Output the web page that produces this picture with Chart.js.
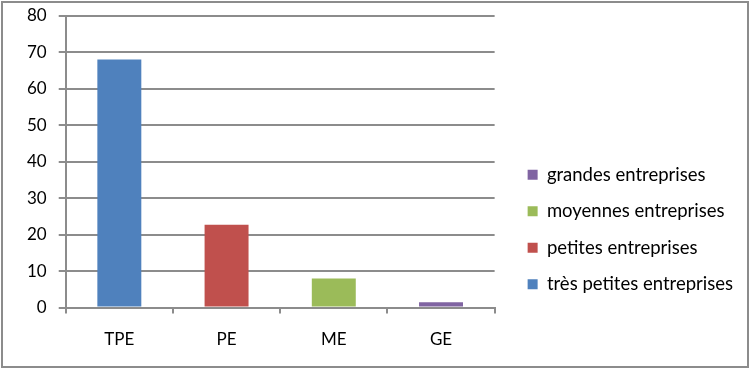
<!DOCTYPE html>
<html>
<head>
<meta charset="utf-8">
<script src="https://cdn.jsdelivr.net/npm/chart.js@4.4.1/dist/chart.umd.min.js"></script>
<style>
  html, body { margin: 0; padding: 0; background: #fff; }
  #frame { position: absolute; left: 1px; top: 1px; width: 744px; height: 363px; border: 2px solid #8c8c8c; }
  #frame canvas { display: block; }
</style>
</head>
<body>
<div id="frame"><canvas id="sizeChart" width="744" height="363"></canvas></div>
<script>
const categories = ['TPE', 'PE', 'ME', 'GE'];
const seriesNames = ['très petites entreprises', 'petites entreprises', 'moyennes entreprises', 'grandes entreprises'];
const seriesValues = [68, 22.7, 8, 1.5];
const seriesColors = ['#4F81BD', '#C0504D', '#9BBB59', '#8064A2'];
const yTicks = [0, 10, 20, 30, 40, 50, 60, 70, 80];

const fontFamily = "Lato, sans-serif";

// each series only has a value in its own category
const datasets = seriesNames.map((name, i) => ({
  label: name,
  data: categories.map((c, j) => (j === i ? seriesValues[i] : null)),
  backgroundColor: seriesColors[i],
  borderWidth: 0,
  barPercentage: 0.82,
  categoryPercentage: 0.5
}));

// leave a wider gap between the plot and the legend, like the excel chart
const legendGap = {
  id: 'legendGap',
  beforeLayout(chart) {
    const lg = chart.legend;
    if (lg && !lg._gapped) {
      const fit = lg.fit.bind(lg);
      lg.fit = function () { fit(); this.width += 15; };
      lg._gapped = true;
    }
  },
  afterLayout(chart) {
    chart.legend.left += 15;
  }
};

const sizeChart = new Chart(document.getElementById('sizeChart'), {
  type: 'bar',
  data: { labels: categories, datasets: datasets },
  plugins: [legendGap],
  options: {
    responsive: false,
    animation: false,
    layout: { padding: { top: 0, right: 4, left: 12, bottom: 0 } },
    plugins: {
      tooltip: { enabled: false },
      legend: {
        position: 'right',
        align: 'start',
        reverse: true,
        maxWidth: 280,
        title: { display: true, text: '', padding: { top: 130, bottom: 0 } },
        labels: {
          boxWidth: 10,
          boxHeight: 10,
          padding: 18,
          color: '#000',
          font: { family: fontFamily, size: 18.5 }
        }
      }
    },
    scales: {
      x: {
        stacked: true,
        grid: { display: true, drawOnChartArea: false, offset: true, color: '#8c8c8c', lineWidth: 2, tickLength: 6 },
        border: { color: '#8c8c8c', width: 2 },
        ticks: { color: '#000', padding: 16, font: { family: fontFamily, size: 17 } }
      },
      y: {
        stacked: true,
        min: 0,
        max: 80,
        afterBuildTicks: axis => { axis.ticks = yTicks.map(v => ({ value: v })); },
        grid: { color: '#8c8c8c', lineWidth: 2, tickLength: 7 },
        border: { color: '#8c8c8c', width: 2 },
        ticks: { color: '#000', padding: 12, font: { family: fontFamily, size: 17, lineHeight: 0.1 } }
      }
    }
  }
});
</script>
</body>
</html>
